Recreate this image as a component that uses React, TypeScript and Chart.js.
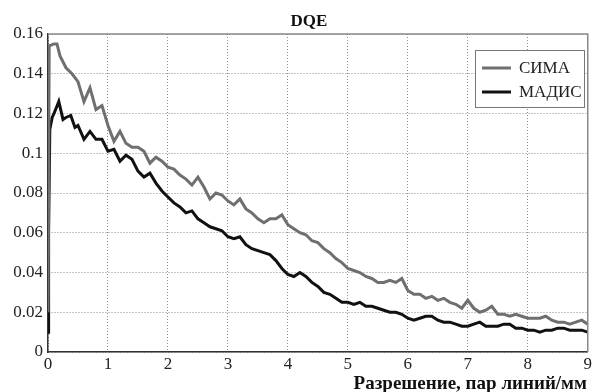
import React, { useEffect, useRef } from "react";
import { Chart, registerables } from "chart.js";

Chart.register(...registerables);

const chartTitle = "DQE";
const xAxisTitle = "Разрешение, пар линий/мм";
const seriesNames = ["СИМА", "МАДИС"];

const simaX = [
  0, 0.02, 0.1, 0.15, 0.2, 0.3, 0.4, 0.5, 0.6, 0.7, 0.8, 0.9, 1.0, 1.1, 1.2, 1.3, 1.4, 1.5, 1.6, 1.7, 1.8, 1.9,
  2.0, 2.1, 2.2, 2.3, 2.4, 2.5, 2.6, 2.7, 2.8, 2.9, 3.0, 3.1, 3.2, 3.3, 3.4, 3.5, 3.6, 3.7, 3.8, 3.9,
  4.0, 4.1, 4.2, 4.3, 4.4, 4.5, 4.6, 4.7, 4.8, 4.9, 5.0, 5.1, 5.2, 5.3, 5.4, 5.5, 5.6, 5.7, 5.8, 5.9,
  6.0, 6.1, 6.2, 6.3, 6.4, 6.5, 6.6, 6.7, 6.8, 6.9, 7.0, 7.1, 7.2, 7.3, 7.4, 7.5, 7.6, 7.7, 7.8, 7.9,
  8.0, 8.1, 8.2, 8.3, 8.4, 8.5, 8.6, 8.7, 8.8, 8.9, 9.0,
];
const simaY = [
  0.02, 0.154, 0.155, 0.155, 0.149, 0.143, 0.14, 0.136, 0.126, 0.133, 0.122, 0.124, 0.114, 0.106, 0.111, 0.105,
  0.103, 0.103, 0.101, 0.095, 0.098, 0.096, 0.093, 0.092, 0.089, 0.087, 0.084, 0.088, 0.083, 0.077, 0.08, 0.079,
  0.076, 0.074, 0.077, 0.072, 0.07, 0.067, 0.065, 0.067, 0.067, 0.069, 0.064, 0.062, 0.06, 0.059, 0.056, 0.055,
  0.052, 0.05, 0.047, 0.045, 0.042, 0.041, 0.04, 0.038, 0.037, 0.035, 0.035, 0.036, 0.035, 0.037, 0.031, 0.029,
  0.029, 0.027, 0.028, 0.026, 0.027, 0.025, 0.024, 0.022, 0.026, 0.022, 0.02, 0.021, 0.023, 0.019, 0.019, 0.018,
  0.019, 0.018, 0.017, 0.017, 0.017, 0.018, 0.016, 0.015, 0.015, 0.014, 0.015, 0.016, 0.014,
];

const madisX = [
  0, 0.01, 0.03, 0.07, 0.1, 0.18, 0.25, 0.3, 0.38, 0.45, 0.5, 0.6, 0.7, 0.8, 0.9, 1.0, 1.1, 1.2, 1.3, 1.4, 1.5,
  1.6, 1.7, 1.8, 1.9, 2.0, 2.1, 2.2, 2.3, 2.4, 2.5, 2.6, 2.7, 2.8, 2.9, 3.0, 3.1, 3.2, 3.3, 3.4, 3.5, 3.6, 3.7,
  3.8, 3.9, 4.0, 4.1, 4.2, 4.3, 4.4, 4.5, 4.6, 4.7, 4.8, 4.9, 5.0, 5.1, 5.2, 5.3, 5.4, 5.5, 5.6, 5.7, 5.8, 5.9,
  6.0, 6.1, 6.2, 6.3, 6.4, 6.5, 6.6, 6.7, 6.8, 6.9, 7.0, 7.1, 7.2, 7.3, 7.4, 7.5, 7.6, 7.7, 7.8, 7.9,
  8.0, 8.1, 8.2, 8.3, 8.4, 8.5, 8.6, 8.7, 8.8, 8.9, 9.0,
];
const madisY = [
  0.01, 0.06, 0.112, 0.118, 0.12, 0.126, 0.117, 0.118, 0.119, 0.113, 0.114, 0.107, 0.111, 0.107, 0.107, 0.101,
  0.102, 0.096, 0.099, 0.097, 0.091, 0.088, 0.09, 0.085, 0.081, 0.078, 0.075, 0.073, 0.07, 0.071, 0.067, 0.065,
  0.063, 0.062, 0.061, 0.058, 0.057, 0.058, 0.054, 0.052, 0.051, 0.05, 0.049, 0.046, 0.042, 0.039, 0.038, 0.04,
  0.038, 0.035, 0.033, 0.03, 0.029, 0.027, 0.025, 0.025, 0.024, 0.025, 0.023, 0.023, 0.022, 0.021, 0.02, 0.02,
  0.019, 0.017, 0.016, 0.017, 0.018, 0.018, 0.016, 0.015, 0.015, 0.014, 0.013, 0.013, 0.014, 0.015, 0.013, 0.013,
  0.013, 0.014, 0.014, 0.012, 0.012, 0.011, 0.011, 0.01, 0.011, 0.011, 0.012, 0.012, 0.011, 0.011, 0.011, 0.01,
];

const seriesColors = ["#6f6f6f", "#111111"];
const FONT = "'Liberation Serif', 'Times New Roman', serif";

const decorPlugin = {
  id: "decor",
  afterDraw(chart: any) {
    const { ctx, chartArea } = chart;
    const { left, right, top, bottom } = chartArea;
    ctx.save();
    // top and right frame
    ctx.strokeStyle = "#8a8a8a";
    ctx.lineWidth = 1.5;
    ctx.beginPath();
    ctx.moveTo(left, top);
    ctx.lineTo(right, top);
    ctx.lineTo(right, bottom);
    ctx.stroke();

    // title
    ctx.fillStyle = "#111";
    ctx.font = `bold 17px ${FONT}`;
    ctx.textAlign = "center";
    ctx.textBaseline = "alphabetic";
    ctx.fillText(chartTitle, (left + right) / 2 - 9, 26);

    // x axis title
    ctx.font = `bold 19px ${FONT}`;
    ctx.textAlign = "right";
    ctx.fillText(xAxisTitle, 587, 389);

    // legend
    const bx = 475, by = 50, bw = 109, bh = 57;
    ctx.fillStyle = "#fff";
    ctx.fillRect(bx, by, bw, bh);
    ctx.strokeStyle = "#777";
    ctx.lineWidth = 1;
    ctx.strokeRect(bx + 0.5, by + 0.5, bw, bh);
    ctx.font = `17px ${FONT}`;
    ctx.textAlign = "left";
    ctx.textBaseline = "middle";
    seriesNames.forEach((name, i) => {
      const yy = by + 18 + i * 24;
      ctx.strokeStyle = seriesColors[i];
      ctx.lineWidth = 3;
      ctx.beginPath();
      ctx.moveTo(bx + 7, yy);
      ctx.lineTo(bx + 36, yy);
      ctx.stroke();
      ctx.fillStyle = "#222";
      ctx.fillText(name, bx + 44, yy + 1);
    });
    ctx.restore();
  },
};

export default function App() {
  const ref = useRef<HTMLCanvasElement | null>(null);
  useEffect(() => {
    document.body.style.margin = "0";
    if (!ref.current) return;
    const mk = (xs: number[], ys: number[]) => xs.map((x, i) => ({ x, y: ys[i] }));
    const chart = new Chart(ref.current, {
      type: "line",
      data: {
        datasets: [
          {
            label: seriesNames[0],
            data: mk(simaX, simaY),
            borderColor: seriesColors[0],
            borderWidth: 3,
            pointRadius: 0,
            tension: 0,
          },
          {
            label: seriesNames[1],
            data: mk(madisX, madisY),
            borderColor: seriesColors[1],
            borderWidth: 3,
            pointRadius: 0,
            tension: 0,
          },
        ],
      },
      options: {
        animation: false,
        responsive: false,
        layout: { padding: { top: 34, right: 6, left: 0, bottom: 0 } },
        plugins: { legend: { display: false }, title: { display: false }, tooltip: { enabled: false } },
        scales: {
          x: {
            type: "linear",
            min: 0,
            max: 9,
            afterFit: (s: any) => {
              s.height = 40;
            },
            ticks: { stepSize: 1, color: "#222", font: { family: FONT, size: 17 }, padding: 2, maxRotation: 0 },
            grid: { color: "#8c8c8c", drawTicks: false, lineWidth: 1 },
            border: { color: "#333", width: 1.5, dash: [1, 2] },
          },
          y: {
            min: 0,
            max: 0.16,
            afterFit: (s: any) => {
              s.width = 48;
            },
            ticks: {
              stepSize: 0.02,
              color: "#222",
              font: { family: FONT, size: 17 },
              padding: 5,
              callback: (v: any) => String(Number(Number(v).toFixed(2))),
            },
            grid: { color: "#8c8c8c", drawTicks: false, lineWidth: 1 },
            border: { color: "#333", width: 1.5, dash: [1, 2] },
          },
        },
      },
      plugins: [decorPlugin],
    });
    return () => chart.destroy();
  }, []);
  return <canvas ref={ref} width={594} height={392} style={{ display: "block" }} />;
}
